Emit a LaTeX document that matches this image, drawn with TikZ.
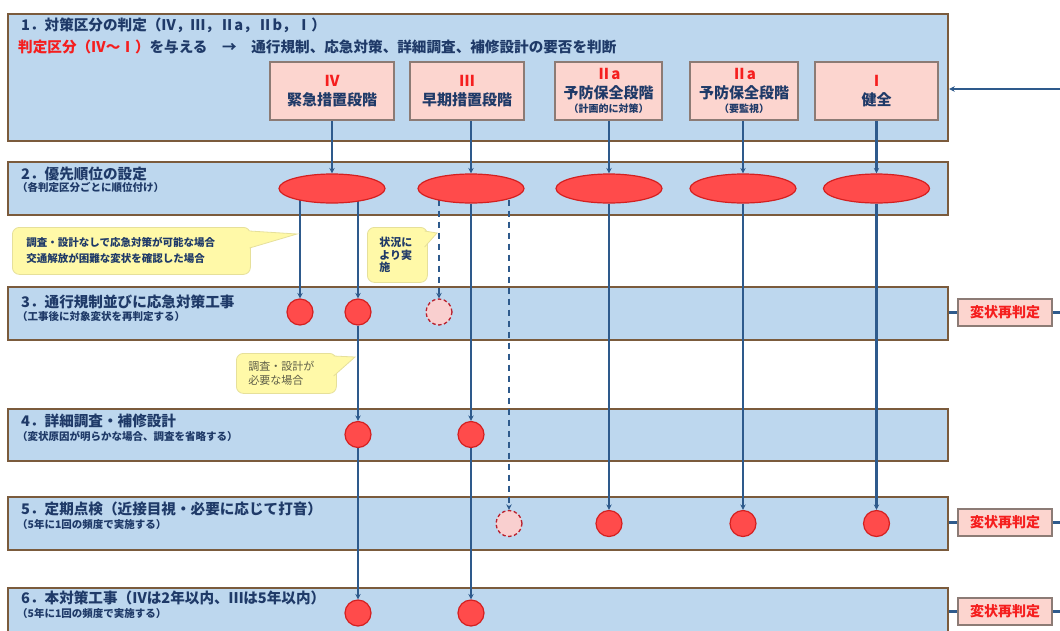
\documentclass[tikz,border=0pt]{standalone}
\usepackage{fontspec}
\setmainfont{Noto Sans CJK JP}
\usetikzlibrary{shapes.geometric,arrows.meta}
\definecolor{bandfill}{HTML}{BDD7EE}
\definecolor{bandline}{HTML}{7B5B3C}
\definecolor{navy}{HTML}{1F3A68}
\definecolor{linkc}{HTML}{2E5A8C}
\definecolor{redtxt}{HTML}{F51E1E}
\definecolor{pinkfill}{HTML}{FCD5CF}
\definecolor{catline}{HTML}{8C7B75}
\definecolor{ellfill}{HTML}{FF4B4B}
\definecolor{elldraw}{HTML}{D42020}
\definecolor{lightpink}{HTML}{F9CFCF}
\definecolor{dashred}{HTML}{B8202E}
\definecolor{notefill}{HTML}{FFF9A8}
\definecolor{noteline}{HTML}{E6E09A}
\definecolor{notetxt}{HTML}{5E5E48}
\pgfdeclarelayer{bandlayer}
\pgfdeclarelayer{linklayer}
\pgfsetlayers{bandlayer,linklayer,main}
\tikzset{
 band/.style={draw=bandline, line width=2.2pt, fill=bandfill, inner sep=0, anchor=north west, minimum width=940},
 ttl/.style={font=\fontsize{14.6}{18}\selectfont\bfseries, text=navy, inner sep=0, anchor=west},
 subttl/.style={font=\fontsize{10.5}{12}\selectfont\bfseries, text=navy, inner sep=0, anchor=west},
 catbox/.style={draw=catline, line width=1.2pt, fill=pinkfill, minimum height=58, inner sep=0, align=center, font=\fontsize{15}{19}\selectfont\bfseries, text=navy},
 prio/.style={ellipse, draw=elldraw, line width=1.2pt, fill=ellfill, minimum width=106, minimum height=29, inner sep=0},
 act/.style={circle, draw=elldraw, line width=1.2pt, fill=ellfill, minimum size=26, inner sep=0},
 opt/.style={circle, draw=dashred, dash pattern=on 3.5pt off 2.5pt, line width=1.3pt, fill=lightpink, minimum size=26, inner sep=0},
 link/.style={draw=linkc, line width=2.2pt, -{Stealth[length=5.5pt,width=5.5pt]}},
 dlink/.style={link, dash pattern=on 6pt off 5pt},
 plain/.style={draw=linkc, line width=2.2pt},
 rejudge/.style={draw=catline, line width=1.2pt, fill=pinkfill, minimum width=94, minimum height=27, inner sep=0, font=\fontsize{14}{16}\selectfont\bfseries, text=redtxt},
 note/.style={fill=notefill, draw=noteline, line width=0.8pt, rounded corners=7pt, inner ysep=0, align=left, anchor=north west},
}
\begin{document}
\begin{tikzpicture}[x=1pt,y=-1pt]
\useasboundingbox (0,0) rectangle (1060,630);

% ---- bands ----
\begin{pgfonlayer}{bandlayer}
\fill[white] (0,0) rectangle (1060,630);
\node[band, minimum height=127] (b1) at (7,13) {};
\node[band, minimum height=53] (b2) at (7,161) {};
\node[band, minimum height=53] (b3) at (7,286) {};
\node[band, minimum height=52] (b4) at (7,408) {};
\node[band, minimum height=53] (b5) at (7,496) {};
\node[band, minimum height=56] (b6) at (7,587) {};
\end{pgfonlayer}

% ---- band texts ----
\node[ttl] (t1) at (21,25) {1．対策区分の判定（Ⅳ，Ⅲ，Ⅱa，Ⅱb，Ⅰ）};
\node[ttl] (t1b) at (18,47) {{\color{redtxt}判定区分（Ⅳ～Ⅰ）}を与える　→　通行規制、応急対策、詳細調査、補修設計の要否を判断};
\node[ttl] (t2) at (21,174) {2．優先順位の設定};
\node[subttl] (s2) at (17,187) {（各判定区分ごとに順位付け）};
\node[ttl] (t3) at (21,302) {3．通行規制並びに応急対策工事};
\node[subttl] (s3) at (17,317) {（工事後に対象変状を再判定する）};
\node[ttl] (t4) at (21,421) {4．詳細調査・補修設計};
\node[subttl] (s4) at (17,436) {（変状原因が明らかな場合、調査を省略する）};
\node[ttl] (t5) at (21,509) {5．定期点検（近接目視・必要に応じて打音）};
\node[subttl] (s5) at (17,524) {（5年に1回の頻度で実施する）};
\node[ttl] (t6) at (21,598) {6．本対策工事（Ⅳは2年以内、Ⅲは5年以内）};
\node[subttl] (s6) at (17,613) {（5年に1回の頻度で実施する）};

% ---- category boxes ----
\node[catbox, minimum width=124] (cIV) at (332,91) {{\color{redtxt}Ⅳ}\\緊急措置段階};
\node[catbox, minimum width=114] (cIII) at (467,91) {{\color{redtxt}Ⅲ}\\早期措置段階};
\node[catbox, minimum width=107] (cIIa) at (608.5,91) {{\color{redtxt}Ⅱa}\\予防保全段階\\[-5pt]{\fontsize{10}{12}\selectfont（計画的に対策）}};
\node[catbox, minimum width=108] (cIIb) at (744,91) {{\color{redtxt}Ⅱa}\\予防保全段階\\[-5pt]{\fontsize{10}{12}\selectfont（要監視）}};
\node[catbox, minimum width=123] (cI) at (876.5,91) {{\color{redtxt}Ⅰ}\\健全};

% ---- priority ellipses ----
\node[prio] (e1) at (332,188.5) {};
\node[prio] (e2) at (471,188.5) {};
\node[prio] (e3) at (609,188.5) {};
\node[prio] (e4) at (743,188.5) {};
\node[prio] (e5) at (876.5,188.5) {};

% ---- action circles ----
\node[act] (c3a) at (300,312) {};
\node[act] (c3b) at (358,312) {};
\node[opt] (c3c) at (439,312) {};
\node[act] (c4a) at (358,434.5) {};
\node[act] (c4b) at (471,434.5) {};
\node[opt] (c5a) at (509,523.5) {};
\node[act] (c5b) at (609,523.5) {};
\node[act] (c5c) at (743,523.5) {};
\node[act] (c5d) at (876.5,523.5) {};
\node[act] (c6a) at (358,613) {};
\node[act] (c6b) at (471,613) {};

% ---- re-judgement boxes ----
\node[rejudge] (r3) at (1005,312.5) {変状再判定};
\node[rejudge] (r5) at (1005,522.5) {変状再判定};
\node[rejudge] (r6) at (1005,611.5) {変状再判定};
\coordinate (r3o) at (1060,312.5);
\coordinate (r5o) at (1060,522.5);
\coordinate (r6o) at (1060,611.5);
\coordinate (fb) at (1060,89);

% ---- callouts ----
\node[note, minimum width=238, minimum height=47, inner xsep=14, text width=210,
      font=\fontsize{10.5}{16}\selectfont\bfseries, text=navy] (n1) at (12,227)
      {調査・設計なしで応急対策が可能な場合\\交通解放が困難な変状を確認した場合};
\fill[notefill] (249,231) -- (297,234) -- (249,248) -- cycle;
\draw[noteline, line width=0.8pt] (249.6,231) -- (297,234) -- (249.6,248);

\node[note, minimum width=58, minimum height=55, inner xsep=12, text width=36,
      font=\fontsize{11}{12.5}\selectfont\bfseries, text=navy] (n2) at (367,227)
      {状況に\\より実\\施};
\fill[notefill] (424,231) -- (437,233) -- (424,247) -- cycle;
\draw[noteline, line width=0.8pt] (424.6,231) -- (437,233) -- (424.6,247);

\node[note, minimum width=98, minimum height=40, inner xsep=12, text width=76,
      font=\fontsize{11}{14}\selectfont, text=notetxt] (n3) at (236,353)
      {調査・設計が\\必要な場合};
\fill[notefill] (333,356) -- (355,357) -- (333,376) -- cycle;
\draw[noteline, line width=0.8pt] (333.6,356) -- (355,357) -- (333.6,376);

% ---- connectors ----
\begin{pgfonlayer}{linklayer}
\draw[link] (cIV.south -| e1) -- (e1);
\draw[link] (cIII.south -| e2) -- (e2);
\draw[link] (cIIa.south -| e3) -- (e3);
\draw[link] (cIIb.south -| e4) -- (e4);
\draw[link] (cI.south -| e5) -- (e5);

\draw[link] (e1.center -| c3a) -- (c3a);
\draw[link] (e1.center -| c3b) -- (c3b);
\draw[link] (c3b) -- (c4a);
\draw[link] (c4a) -- (c6a);
\draw[dlink] (e2.center -| c3c) -- (c3c);
\draw[link] (e2) -- (c4b);
\draw[link] (c4b) -- (c6b);
\draw[dlink] (e2.center -| c5a) -- (c5a);
\draw[link] (e3) -- (c5b);
\draw[link] (e4) -- (c5c);
\draw[link] (e5) -- (c5d);

\draw[plain] (b3.east |- r3) -- (r3);
\draw[plain] (r3) -- (r3o);
\draw[plain] (b5.east |- r5) -- (r5);
\draw[plain] (r5) -- (r5o);
\draw[plain] (b6.east |- r6) -- (r6);
\draw[plain] (r6) -- (r6o);
\draw[link] (fb) -- (fb -| b1.east);
\end{pgfonlayer}
\end{tikzpicture}
\end{document}
